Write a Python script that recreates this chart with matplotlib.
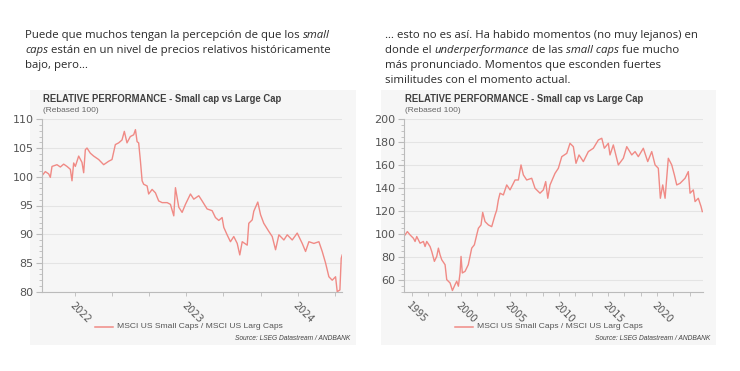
import matplotlib
matplotlib.use("Agg")
from matplotlib import pyplot as plt
from matplotlib.patches import Rectangle
from matplotlib.ticker import MultipleLocator, FixedLocator

# left chart: Sept 2021 - Jul 2024 (decimal years)
short_years = [2021.709, 2021.730, 2021.760, 2021.775, 2021.790, 2021.835, 2021.865, 2021.895,
               2021.925, 2021.955, 2021.970, 2021.985, 2022.000, 2022.030, 2022.060, 2022.075,
               2022.090, 2022.105, 2022.135, 2022.165, 2022.210, 2022.255, 2022.300, 2022.330,
               2022.360, 2022.390, 2022.420, 2022.441, 2022.465, 2022.495, 2022.525, 2022.541,
               2022.556, 2022.570, 2022.586, 2022.601, 2022.615, 2022.646, 2022.660, 2022.691,
               2022.721, 2022.750, 2022.781, 2022.826, 2022.856, 2022.886, 2022.901, 2022.931,
               2022.961, 2022.991, 2023.021, 2023.036, 2023.066, 2023.111, 2023.141, 2023.186,
               2023.231, 2023.261, 2023.291, 2023.321, 2023.336, 2023.366, 2023.396, 2023.426,
               2023.457, 2023.480, 2023.502, 2023.547, 2023.561, 2023.592, 2023.606, 2023.642,
               2023.667, 2023.696, 2023.741, 2023.772, 2023.802, 2023.832, 2023.877, 2023.907,
               2023.952, 2023.997, 2024.042, 2024.072, 2024.102, 2024.147, 2024.192, 2024.222,
               2024.252, 2024.282, 2024.312, 2024.342, 2024.357, 2024.381, 2024.393, 2024.402]
short_vals = [100.4, 100.9, 100.5, 99.9, 101.8, 102.1, 101.7, 102.2,
              101.8, 101.3, 99.3, 102.4, 101.8, 103.6, 102.5, 100.7,
              104.7, 105.0, 104.1, 103.6, 103.0, 102.1, 102.7, 103.0,
              105.6, 105.9, 106.4, 107.9, 105.9, 107.0, 107.3, 108.2,
              106.1, 105.9, 102.7, 99.3, 98.7, 98.4, 97.0, 97.8,
              97.2, 95.8, 95.5, 95.5, 95.2, 93.2, 98.1, 94.7,
              93.8, 95.2, 96.4, 97.0, 96.1, 96.7, 95.8, 94.4,
              94.1, 92.9, 92.4, 92.9, 91.2, 89.9, 88.7, 89.6,
              88.4, 86.4, 88.7, 88.1, 91.9, 92.5, 94.0, 95.6,
              93.4, 91.9, 90.5, 89.6, 87.3, 89.9, 89.0, 89.9,
              89.0, 90.2, 88.4, 87.0, 88.7, 88.4, 88.7, 87.0,
              85.0, 82.6, 82.0, 82.6, 80.0, 80.3, 85.8, 86.4]

# right chart: 1994 - 2024
long_years = [1994.29, 1994.52, 1994.80, 1995.14, 1995.31, 1995.48, 1995.82, 1996.16, 1996.33,
              1996.50, 1996.84, 1997.01, 1997.28, 1997.52, 1997.69, 1997.86, 1998.03, 1998.37,
              1998.54, 1998.88, 1999.12, 1999.39, 1999.56, 1999.73, 1999.90, 2000.00, 2000.13,
              2000.41, 2000.74, 2001.09, 2001.36, 2001.60, 2001.77, 2002.04, 2002.21, 2002.45,
              2002.79, 2003.13, 2003.47, 2003.64, 2003.81, 2003.98, 2004.32, 2004.66, 2005.00,
              2005.34, 2005.51, 2005.85, 2006.12, 2006.36, 2006.70, 2007.21, 2007.55, 2008.06,
              2008.40, 2008.64, 2008.85, 2009.08, 2009.59, 2009.93, 2010.28, 2010.79, 2011.12,
              2011.46, 2011.73, 2012.04, 2012.48, 2012.99, 2013.50, 2014.01, 2014.36, 2014.62,
              2015.03, 2015.20, 2015.54, 2016.05, 2016.56, 2016.91, 2017.42, 2017.76, 2018.09,
              2018.60, 2019.05, 2019.46, 2019.80, 2020.13, 2020.34, 2020.58, 2020.82, 2021.15,
              2021.50, 2021.77, 2022.01, 2022.35, 2022.86, 2023.19, 2023.37, 2023.70, 2023.88,
              2024.21, 2024.49, 2024.62]
long_vals = [99.4, 102.3, 99.4, 96.5, 93.7, 98.0, 92.2, 93.7, 89.3,
             93.7, 89.3, 85.0, 76.4, 80.7, 87.9, 82.1, 77.8, 73.5,
             60.5, 57.6, 51.0, 56.2, 59.1, 54.8, 66.3, 80.7, 66.3,
             67.7, 73.5, 87.9, 90.8, 99.4, 105.2, 108.1, 119.0, 111.0,
             108.1, 106.6, 116.7, 121.0, 129.9, 135.7, 134.2, 142.9, 138.6,
             144.3, 147.2, 147.2, 160.3, 151.6, 147.2, 148.7, 140.0, 135.7,
             138.6, 145.8, 131.3, 142.9, 153.0, 157.4, 167.5, 170.4, 179.1,
             176.2, 161.7, 169.0, 163.2, 171.9, 174.8, 182.0, 183.5, 174.8,
             179.1, 169.0, 177.7, 160.3, 166.1, 176.2, 169.0, 171.9, 167.5,
             174.8, 163.2, 171.9, 160.3, 157.4, 131.3, 142.9, 131.3, 166.1,
             160.3, 151.6, 142.9, 144.3, 148.7, 154.5, 135.7, 138.6, 128.4,
             131.3, 124.1, 119.7]

left_text = [[("Puede que muchos tengan la percepción de que los ", "normal"), ("small", "italic")],
             [("caps", "italic"), (" están en un nivel de precios relativos históricamente", "normal")],
             [("bajo, pero…", "normal")]]
right_text = [[("… esto no es así. Ha habido momentos (no muy lejanos) en", "normal")],
              [("donde el ", "normal"), ("underperformance", "italic"), (" de las ", "normal"),
               ("small caps", "italic"), (" fue mucho", "normal")],
              [("más pronunciado. Momentos que esconden fuertes", "normal")],
              [("similitudes con el momento actual.", "normal")]]

title = "RELATIVE PERFORMANCE - Small cap vs Large Cap"
subtitle = "(Rebased 100)"
legend_label = "MSCI US Small Caps / MSCI US Larg Caps"
source = "Source: LSEG Datastream / ANDBANK"

line_color = "#f08a85"
grey = "#555555"
W, H = 740, 371

fig = plt.figure(figsize=(7.4, 3.71), dpi=100)
fig.patch.set_facecolor("white")
renderer = fig.canvas.get_renderer()


def rich_line(x, y, parts):
    cx = x
    for txt, style in parts:
        t = fig.text(cx / W, 1 - y / H, txt, fontsize=8.2, family="Open Sans", style=style,
                     color="#2a2a2a", va="center", ha="left")
        bb = t.get_window_extent(renderer)
        cx += bb.width


for i, parts in enumerate(left_text):
    rich_line(25, 35.5 + 15 * i, parts)
for i, parts in enumerate(right_text):
    rich_line(385, 35.5 + 15 * i, parts)

# grey panels
for x0, x1 in [(30, 356), (381, 716)]:
    fig.patches.append(Rectangle((x0 / W, 1 - 345 / H), (x1 - x0) / W, 255 / H,
                                 transform=fig.transFigure, facecolor="#f6f6f6",
                                 edgecolor="none", zorder=-5))


def make_chart(x0, x1, xs, ys, xlim, ylim, ystep, yminor, xmajor, xminor, xlabels):
    ax = fig.add_axes([x0 / W, (H - 291.7) / H, (x1 - x0) / W, 172.4 / H])
    ax.set_facecolor("none")
    ax.plot(xs, ys, color=line_color, lw=1.0)
    ax.set_xlim(*xlim)
    ax.set_ylim(*ylim)
    ax.yaxis.set_major_locator(MultipleLocator(ystep))
    ax.yaxis.set_minor_locator(MultipleLocator(yminor))
    ax.xaxis.set_major_locator(FixedLocator(xmajor))
    ax.xaxis.set_minor_locator(MultipleLocator(xminor))
    ax.set_xticklabels(xlabels, rotation=-45, ha="left", va="top", rotation_mode="anchor",
                       fontsize=7)
    ax.grid(axis="y", color="#e4e4e4", lw=0.8)
    for s in ["top", "right"]:
        ax.spines[s].set_visible(False)
    for s in ["left", "bottom"]:
        ax.spines[s].set_color("#bbbbbb")
        ax.spines[s].set_linewidth(0.8)
    ax.tick_params(axis="both", which="both", colors="#bbbbbb", labelcolor=grey)
    ax.tick_params(axis="y", which="major", length=4, width=0.8, pad=2, labelsize=8)
    ax.tick_params(axis="y", which="minor", length=2, width=0.6)
    ax.tick_params(axis="x", which="both", length=3, width=0.6, pad=3)
    ax.set_axisbelow(True)
    return ax


make_chart(42, 342, short_years, short_vals, (2021.70, 2024.40), (80, 110), 5, 1,
           [2022, 2023, 2024], 1 / 3, ["2022", "2023", "2024"])
make_chart(404, 703, long_years, long_vals, (1994.18, 2024.69), (50, 200), 20, 5,
           [1995, 2000, 2005, 2010, 2015, 2020], 5 / 3,
           ["1995", "2000", "2005", "2010", "2015", "2020"])

# titles, legends, sources
for ax_left, panel_right, leg_x in [(43, 350, 95), (405, 710, 455)]:
    fig.text(ax_left / W, 1 - 98.5 / H, title, fontsize=6.85, weight="bold", color="#404040",
             family="Liberation Sans", va="center")
    fig.text(ax_left / W, 1 - 110.5 / H, subtitle, fontsize=6, color="#666666",
             family="Liberation Sans", va="center")
    fig.add_artist(plt.Line2D([leg_x / W, (leg_x + 18) / W], [1 - 327 / H, 1 - 327 / H],
                              color=line_color, lw=1.1, transform=fig.transFigure))
    fig.text((leg_x + 22) / W, 1 - 327 / H, legend_label, fontsize=6.1, color=grey,
             family="Liberation Sans", va="center")
    fig.text(panel_right / W, 1 - 338.5 / H, source, fontsize=4.8, style="italic",
             color="#444444", family="Liberation Sans", va="center", ha="right")

fig.savefig("out.png", dpi=100)
